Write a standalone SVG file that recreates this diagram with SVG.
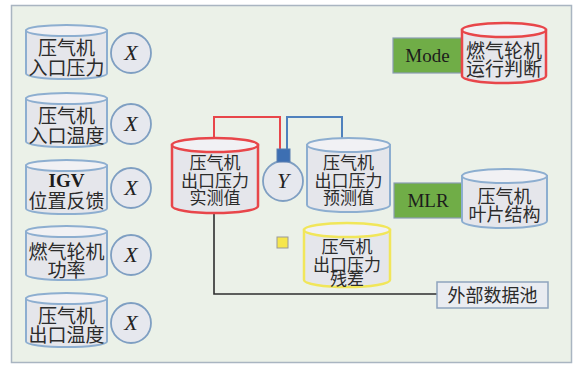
<svg xmlns="http://www.w3.org/2000/svg" width="574" height="365" viewBox="0 0 574 365">
  <defs>
    <style>
      .frame { fill: #ebf1e8; stroke: #a9b5c1; stroke-width: 1.5; }
      .cyl-body { fill: #e5e6eb; stroke-width: 2; }
      .cyl-top { fill: #f1f1f4; stroke-width: 2; }
      .blue { stroke: #8daed0; }
      .red { stroke: #e8464a; stroke-width: 2.5; }
      .yellow { stroke: #f1e65a; stroke-width: 2.5; }
      .cn { font-family: "Noto Sans CJK SC", "Noto Sans", sans-serif; fill: #2b2b2b; text-anchor: middle; }
      .lat { font-family: "Liberation Serif", serif; fill: #1c1c1c; text-anchor: middle; }
      .var { font-family: "Liberation Serif", serif; font-style: italic; fill: #222; text-anchor: middle; font-size: 22px; }
      .circ { fill: #e6e8ee; stroke: #7f9fc2; stroke-width: 1.8; }
      .box { fill: #70ad47; stroke: #8a9db3; stroke-width: 1.2; }
      .pool { fill: #e9ecf1; stroke: #8ea4bd; stroke-width: 1.5; }
    </style>
  </defs>

  <rect x="0" y="0" width="574" height="365" fill="#ffffff"/>
  <rect class="frame" x="11.5" y="5.5" width="560" height="357"/>

  <!-- connectors -->
  <g id="connectors" fill="none">
    <path d="M214,138 V117 H280 V149" stroke="#e8464a" stroke-width="2"/>
    <path d="M287,149 V117 H342 V138" stroke="#4f81bd" stroke-width="2"/>
    <path d="M214,213 V294 H437" stroke="#2e2e2e" stroke-width="1.6"/>
  </g>

  <!-- left inputs -->
  <g id="in-pressure">
    <path class="cyl-body blue" d="M26,30.5 V73.5 A40.5,5.5 0 0 0 107,73.5 V30.5 Z"/>
    <ellipse class="cyl-top blue" cx="66.5" cy="30.5" rx="40.5" ry="5.5"/>
    <text class="cn" x="66.5" y="55" font-size="19">压气机</text>
    <text class="cn" x="66.5" y="75" font-size="19">入口压力</text>
  </g>
  <g id="x1"><circle class="circ" cx="131" cy="53" r="20"/><text class="var" x="131" y="60">X</text></g>

  <g id="in-temperature">
    <path class="cyl-body blue" d="M26,98.5 V141.5 A40.5,5.5 0 0 0 107,141.5 V98.5 Z"/>
    <ellipse class="cyl-top blue" cx="66.5" cy="98.5" rx="40.5" ry="5.5"/>
    <text class="cn" x="66.5" y="123" font-size="19">压气机</text>
    <text class="cn" x="66.5" y="143" font-size="19">入口温度</text>
  </g>
  <g id="x2"><circle class="circ" cx="131" cy="124" r="20"/><text class="var" x="131" y="131">X</text></g>

  <g id="igv">
    <path class="cyl-body blue" d="M26,165.5 V208.5 A40.5,5.5 0 0 0 107,208.5 V165.5 Z"/>
    <ellipse class="cyl-top blue" cx="66.5" cy="165.5" rx="40.5" ry="5.5"/>
    <text class="lat" x="66.5" y="187" font-size="19" font-weight="bold">IGV</text>
    <text class="cn" x="66.5" y="208" font-size="19">位置反馈</text>
  </g>
  <g id="x3"><circle class="circ" cx="131" cy="188" r="20"/><text class="var" x="131" y="195">X</text></g>

  <g id="gt-power">
    <path class="cyl-body blue" d="M26,231.5 V274.5 A40.5,5.5 0 0 0 107,274.5 V231.5 Z"/>
    <ellipse class="cyl-top blue" cx="66.5" cy="231.5" rx="40.5" ry="5.5"/>
    <text class="cn" x="66.5" y="259" font-size="19">燃气轮机</text>
    <text class="cn" x="66.5" y="277" font-size="19">功率</text>
  </g>
  <g id="x4"><circle class="circ" cx="131" cy="255" r="20"/><text class="var" x="131" y="262">X</text></g>

  <g id="out-temperature">
    <path class="cyl-body blue" d="M26,298.5 V341.5 A40.5,5.5 0 0 0 107,341.5 V298.5 Z"/>
    <ellipse class="cyl-top blue" cx="66.5" cy="298.5" rx="40.5" ry="5.5"/>
    <text class="cn" x="66.5" y="323" font-size="19">压气机</text>
    <text class="cn" x="66.5" y="342" font-size="19">出口温度</text>
  </g>
  <g id="x5"><circle class="circ" cx="131" cy="323" r="20"/><text class="var" x="131" y="330">X</text></g>

  <!-- centre -->
  <g id="measured">
    <path class="cyl-body red" d="M172,145 V206 A43,7 0 0 0 258,206 V145 Z"/>
    <ellipse class="cyl-top red" cx="215" cy="145" rx="43" ry="7"/>
    <text class="cn" x="215" y="169" font-size="17">压气机</text>
    <text class="cn" x="215" y="187" font-size="17">出口压力</text>
    <text class="cn" x="215" y="204" font-size="17">实测值</text>
  </g>

  <g id="y">
    <circle class="circ" cx="283" cy="181" r="20"/>
    <text class="var" x="283" y="188">Y</text>
    <rect x="277" y="149" width="13" height="13" fill="#3d6fb2" stroke="#5a7fb0" stroke-width="1"/>
  </g>

  <g id="predicted">
    <path class="cyl-body blue" d="M307,145 V205 A41.5,7 0 0 0 390,205 V145 Z"/>
    <ellipse class="cyl-top blue" cx="348.5" cy="145" rx="41.5" ry="7"/>
    <text class="cn" x="348.5" y="169" font-size="17">压气机</text>
    <text class="cn" x="348.5" y="187" font-size="17">出口压力</text>
    <text class="cn" x="348.5" y="204" font-size="17">预测值</text>
  </g>

  <g id="residual-mark">
    <rect x="277" y="237" width="11" height="11" fill="#f6e64c" stroke="#9a9a9a" stroke-width="1"/>
  </g>

  <g id="residual">
    <path class="cyl-body yellow" d="M304,230 V280 A43,7 0 0 0 390,280 V230 Z"/>
    <ellipse class="cyl-top yellow" cx="347" cy="230" rx="43" ry="7"/>
    <text class="cn" x="347" y="253" font-size="17">压气机</text>
    <text class="cn" x="347" y="271" font-size="17">出口压力</text>
    <text class="cn" x="347" y="285" font-size="17">残差</text>
  </g>

  <!-- right -->
  <g id="mode">
    <rect class="box" x="393" y="38" width="69" height="35"/>
    <text class="lat" x="427.5" y="61.5" font-size="19">Mode</text>
  </g>
  <g id="gt-state">
    <path class="cyl-body red" d="M462,30 V76 A42,7 0 0 0 546,76 V30 Z"/>
    <ellipse class="cyl-top red" cx="504" cy="30" rx="42" ry="7"/>
    <text class="cn" x="504" y="58" font-size="19">燃气轮机</text>
    <text class="cn" x="504" y="76" font-size="19">运行判断</text>
  </g>

  <g id="mlr">
    <rect class="box" x="394" y="183" width="68" height="35"/>
    <text class="lat" x="428" y="207" font-size="19">MLR</text>
  </g>
  <g id="blade">
    <path class="cyl-body blue" d="M462,176 V221 A42.5,7 0 0 0 547,221 V176 Z"/>
    <ellipse class="cyl-top blue" cx="504.5" cy="176" rx="42.5" ry="7"/>
    <text class="cn" x="504.5" y="203" font-size="18">压气机</text>
    <text class="cn" x="504.5" y="221" font-size="18">叶片结构</text>
  </g>

  <g id="pool">
    <rect class="pool" x="437" y="282" width="111" height="26"/>
    <text class="cn" x="492.5" y="302" font-size="18">外部数据池</text>
  </g>
</svg>
